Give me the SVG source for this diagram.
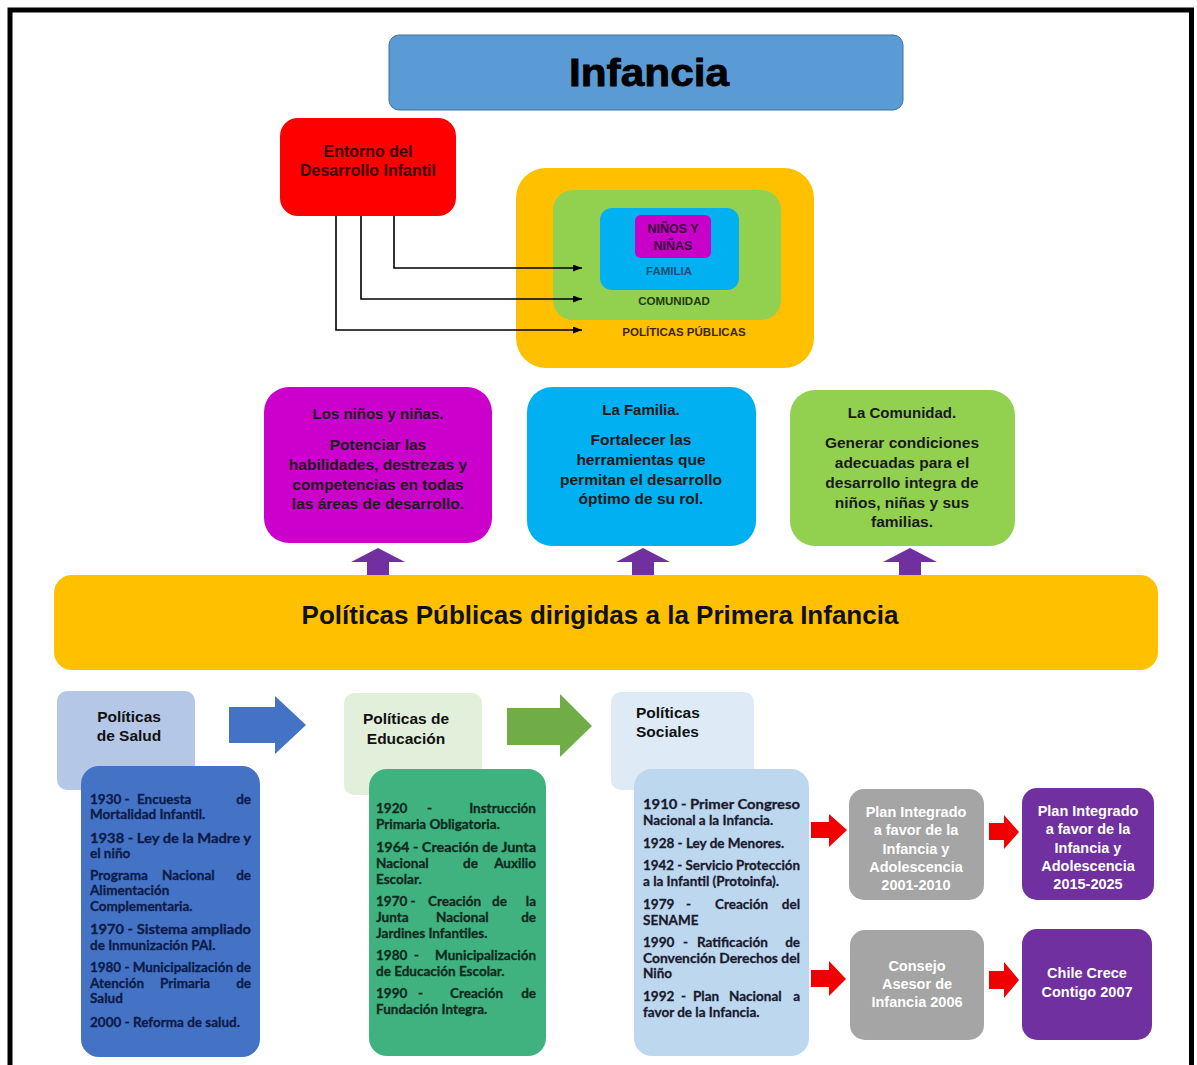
<svg xmlns="http://www.w3.org/2000/svg" width="1197" height="1065" viewBox="0 0 1197 1065">
<defs>
<style>
.t{font-family:"Liberation Sans",Arial,sans-serif;}
.b{font-weight:bold;}
.c{text-anchor:middle;}
.e{text-anchor:end;}
.cal{font-family:Lato,"Liberation Sans",sans-serif;font-weight:bold;font-size:13.5px;stroke-width:0.3px;}
.mid{font-family:"Liberation Sans",Arial,sans-serif;font-size:15.5px;font-weight:bold;fill:#1a1a1a;text-anchor:middle;}
.ttl{font-size:15px;}
.wh{font-family:"Liberation Sans",Arial,sans-serif;font-size:14.5px;font-weight:bold;fill:#ffffff;text-anchor:middle;}
.hdr{font-family:"Liberation Sans",Arial,sans-serif;font-size:15.5px;font-weight:bold;fill:#111;}
.conn{fill:none;stroke:#000;stroke-width:1.6;}
</style>
<marker id="ah" markerWidth="9" markerHeight="7" refX="9" refY="3.5" orient="auto" markerUnits="userSpaceOnUse">
<path d="M0,0 L9,3.5 L0,7 z" fill="#000"/>
</marker>
</defs>
<rect x="0" y="0" width="1197" height="1065" fill="#fff"/>
<rect x="10" y="10" width="1181.5" height="1080" fill="none" stroke="#000" stroke-width="5"/>

<g id="infancia">
<rect x="389" y="35" width="514" height="75" rx="10" fill="#5B9BD5" stroke="#41719C" stroke-width="1"/>
<text x="649" y="86" class="t b c" font-size="38" textLength="160" lengthAdjust="spacingAndGlyphs" stroke="#000" stroke-width="0.8">Infancia</text>
</g>

<g id="entorno">
<rect x="280" y="118" width="176" height="98" rx="18" fill="#FF0000"/>
<text x="368" y="157" class="t b c" font-size="16" fill="#3a0000">Entorno del</text>
<text x="368" y="176" class="t b c" font-size="16" fill="#3a0000">Desarrollo Infantil</text>
</g>

<g id="politicas-publicas-ring">
<rect x="516" y="168" width="298" height="200" rx="30" fill="#FFC000"/>
<text x="684" y="336" class="t b c" font-size="11.5" fill="#3d2600">POLÍTICAS PÚBLICAS</text>
</g>
<g id="comunidad-ring">
<rect x="553" y="190" width="228" height="130" rx="20" fill="#92D050"/>
<text x="674" y="305" class="t b c" font-size="11.5" fill="#1f3a0c">COMUNIDAD</text>
</g>
<g id="familia-ring">
<rect x="600" y="208" width="139" height="82" rx="12" fill="#00B0F0"/>
<text x="669" y="275" class="t b c" font-size="11.5" fill="#1F4E79">FAMILIA</text>
</g>
<g id="ninos-ring">
<rect x="635" y="215" width="76" height="43" rx="6" fill="#C800C8"/>
<text x="673" y="233" class="t b c" font-size="12.5" fill="#3a003a">NIÑOS Y</text>
<text x="673" y="250" class="t b c" font-size="12.5" fill="#3a003a">NIÑAS</text>
</g>

<g id="box-ninos">
<rect x="264" y="387" width="228" height="156" rx="25" fill="#CC00CC"/>
<text x="378" y="419" class="mid ttl">Los niños y niñas.</text>
<text x="378" y="450" class="mid">Potenciar las</text>
<text x="378" y="470" class="mid">habilidades, destrezas y</text>
<text x="378" y="490" class="mid">competencias en todas</text>
<text x="378" y="509" class="mid">las áreas de desarrollo.</text>
</g>

<g id="box-familia">
<rect x="527" y="387" width="229" height="159" rx="25" fill="#00B0F0"/>
<text x="641" y="415" class="mid ttl">La Familia.</text>
<text x="641" y="445" class="mid">Fortalecer las</text>
<text x="641" y="465" class="mid">herramientas que</text>
<text x="641" y="485" class="mid">permitan el desarrollo</text>
<text x="641" y="504" class="mid">óptimo de su rol.</text>
</g>

<g id="box-comunidad">
<rect x="790" y="390" width="225" height="156" rx="25" fill="#92D050"/>
<text x="902" y="418" class="mid ttl">La Comunidad.</text>
<text x="902" y="448" class="mid">Generar condiciones</text>
<text x="902" y="468" class="mid">adecuadas para el</text>
<text x="902" y="488" class="mid">desarrollo integra de</text>
<text x="902" y="508" class="mid">niños, niñas y sus</text>
<text x="902" y="527" class="mid">familias.</text>
</g>

<g id="banner">
<rect x="54" y="575" width="1104" height="95" rx="18" fill="#FFC000"/>
<text x="600" y="624" class="t b c" font-size="26" fill="#111">Políticas Públicas dirigidas a la Primera Infancia</text>
</g>

<g id="hdr-salud">
<rect x="57" y="691" width="138" height="99" rx="10" fill="#B4C7E7"/>
<text x="129" y="722" class="hdr c">Políticas</text>
<text x="129" y="741" class="hdr c">de Salud</text>
</g>
<g id="box-salud">
<rect x="81" y="766" width="179" height="291" rx="18" fill="#4472C4"/>
<g class="cal" fill="#0c1c4a" stroke="#0c1c4a">
<text x="90" y="804">1930 -</text><text x="137" y="804">Encuesta</text><text x="251" y="804" class="e">de</text>
<text x="90" y="819">Mortalidad Infantil.</text>
<text x="90" y="843" textLength="161" lengthAdjust="spacingAndGlyphs">1938 - Ley de la Madre y</text>
<text x="90" y="858">el niño</text>
<text x="90" y="880">Programa</text><text x="162" y="880">Nacional</text><text x="251" y="880" class="e">de</text>
<text x="90" y="895">Alimentación</text>
<text x="90" y="911">Complementaria.</text>
<text x="90" y="934" textLength="161" lengthAdjust="spacingAndGlyphs">1970 - Sistema ampliado</text>
<text x="90" y="950">de Inmunización PAI.</text>
<text x="90" y="972" textLength="161" lengthAdjust="spacingAndGlyphs">1980 - Municipalización de</text>
<text x="90" y="988">Atención</text><text x="160" y="988">Primaria</text><text x="251" y="988" class="e">de</text>
<text x="90" y="1003">Salud</text>
<text x="90" y="1027">2000 - Reforma de salud.</text>
</g>
</g>

<g id="hdr-educacion">
<rect x="344" y="693" width="138" height="102" rx="10" fill="#E2EFDA"/>
<text x="406" y="724" class="hdr c">Políticas de</text>
<text x="406" y="744" class="hdr c">Educación</text>
</g>
<g id="box-educacion">
<rect x="369" y="769" width="177" height="287" rx="18" fill="#3FB27F"/>
<g class="cal" fill="#0e2a1e" stroke="#0e2a1e">
<text x="376" y="813">1920</text><text x="427" y="813">-</text><text x="536" y="813" class="e">Instrucción</text>
<text x="376" y="829">Primaria Obligatoria.</text>
<text x="376" y="852" textLength="160" lengthAdjust="spacingAndGlyphs">1964 - Creación de Junta</text>
<text x="376" y="868">Nacional</text><text x="463" y="868">de</text><text x="536" y="868" class="e">Auxilio</text>
<text x="376" y="884">Escolar.</text>
<text x="376" y="906">1970 -</text><text x="428" y="906">Creación</text><text x="492" y="906">de</text><text x="536" y="906" class="e">la</text>
<text x="376" y="922">Junta</text><text x="436" y="922">Nacional</text><text x="536" y="922" class="e">de</text>
<text x="376" y="938">Jardines Infantiles.</text>
<text x="376" y="960">1980</text><text x="414" y="960">-</text><text x="536" y="960" class="e">Municipalización</text>
<text x="376" y="976">de Educación Escolar.</text>
<text x="376" y="998">1990</text><text x="418" y="998">-</text><text x="450" y="998">Creación</text><text x="536" y="998" class="e">de</text>
<text x="376" y="1014">Fundación Integra.</text>
</g>
</g>

<g id="hdr-sociales">
<rect x="611" y="692" width="143" height="98" rx="10" fill="#DEEBF7"/>
<text x="636" y="718" class="hdr">Políticas</text>
<text x="636" y="737" class="hdr">Sociales</text>
</g>
<g id="box-sociales">
<rect x="634" y="769" width="175" height="287" rx="18" fill="#BDD7EE"/>
<g class="cal" fill="#1a1a2e" stroke="#1a1a2e">
<text x="643" y="809" textLength="157" lengthAdjust="spacingAndGlyphs">1910 - Primer Congreso</text>
<text x="643" y="825">Nacional a la Infancia.</text>
<text x="643" y="848">1928 - Ley de Menores.</text>
<text x="643" y="870" textLength="157" lengthAdjust="spacingAndGlyphs">1942 - Servicio Protección</text>
<text x="643" y="886">a la Infantil (Protoinfa).</text>
<text x="643" y="909">1979</text><text x="686" y="909">-</text><text x="715" y="909">Creación</text><text x="800" y="909" class="e">del</text>
<text x="643" y="925">SENAME</text>
<text x="643" y="947">1990</text><text x="683" y="947">-</text><text x="697" y="947">Ratificación</text><text x="800" y="947" class="e">de</text>
<text x="643" y="963" textLength="157" lengthAdjust="spacingAndGlyphs">Convención Derechos del</text>
<text x="643" y="978">Niño</text>
<text x="643" y="1001">1992</text><text x="681" y="1001">-</text><text x="693" y="1001">Plan</text><text x="729" y="1001">Nacional</text><text x="800" y="1001" class="e">a</text>
<text x="643" y="1017">favor de la Infancia.</text>
</g>
</g>

<g id="plan-2001">
<rect x="849" y="789" width="135" height="111" rx="15" fill="#A5A5A5"/>
<text x="916" y="817" class="wh">Plan Integrado</text>
<text x="916" y="835" class="wh">a favor de la</text>
<text x="916" y="854" class="wh">Infancia y</text>
<text x="916" y="872" class="wh">Adolescencia</text>
<text x="916" y="890" class="wh">2001-2010</text>
</g>
<g id="plan-2015">
<rect x="1022" y="788" width="132" height="112" rx="15" fill="#7030A0"/>
<text x="1088" y="816" class="wh">Plan Integrado</text>
<text x="1088" y="834" class="wh">a favor de la</text>
<text x="1088" y="853" class="wh">Infancia y</text>
<text x="1088" y="871" class="wh">Adolescencia</text>
<text x="1088" y="889" class="wh">2015-2025</text>
</g>
<g id="consejo-2006">
<rect x="850" y="930" width="134" height="110" rx="15" fill="#A5A5A5"/>
<text x="917" y="971" class="wh">Consejo</text>
<text x="917" y="989" class="wh">Asesor de</text>
<text x="917" y="1007" class="wh">Infancia 2006</text>
</g>
<g id="chile-crece">
<rect x="1022" y="929" width="130" height="111" rx="15" fill="#7030A0"/>
<text x="1087" y="978" class="wh">Chile Crece</text>
<text x="1087" y="997" class="wh">Contigo 2007</text>
</g>

<g id="connectors">
<path class="conn" d="M394,216 V268 H582" marker-end="url(#ah)"/>
<path class="conn" d="M361,216 V299 H582" marker-end="url(#ah)"/>
<path class="conn" d="M336,216 V330 H582" marker-end="url(#ah)"/>
<g fill="#7030A0">
<polygon points="378,548 405,562 389,562 389,575 367,575 367,562 351,562"/>
<polygon points="643,548 670,562 654,562 654,575 632,575 632,562 616,562"/>
<polygon points="910,548 937,562 921,562 921,575 899,575 899,562 883,562"/>
</g>
<polygon points="229,707 275,707 275,696 306,725 275,754 275,743 229,743" fill="#4472C4"/>
<polygon points="507,708 560,708 560,694 592,726 560,757 560,745 507,745" fill="#70AD47"/>
<g fill="#F00000">
<polygon points="811,822 829,822 829,814 847,830 829,847 829,838 811,838"/>
<polygon points="989,823 1004,823 1004,815 1019,832 1004,849 1004,840 989,840"/>
<polygon points="811,970 829,970 829,961 846,979 829,996 829,987 811,987"/>
<polygon points="989,971 1004,971 1004,962 1019,980 1004,998 1004,989 989,989"/>
</g>
</g>
</svg>
